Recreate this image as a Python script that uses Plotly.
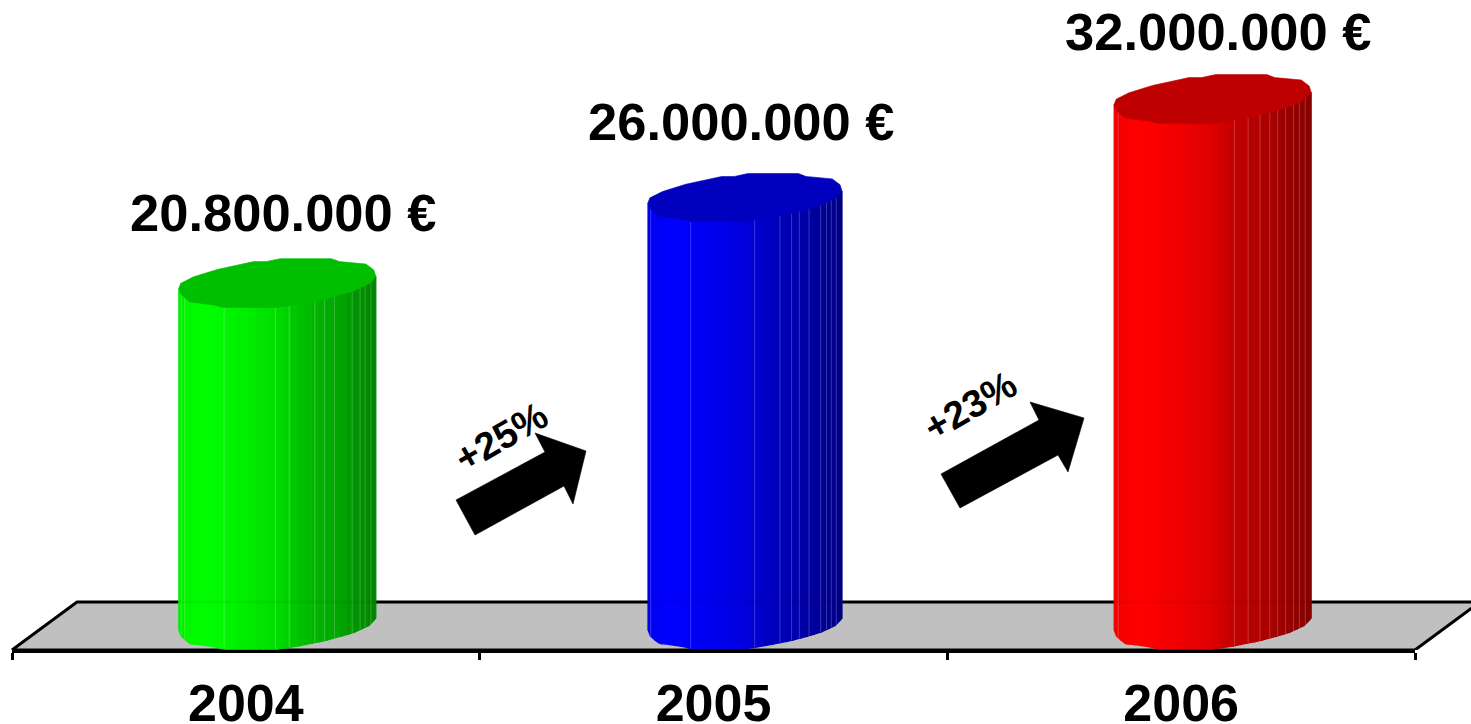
import numpy as np
import plotly.graph_objects as go

# ---- data ----
YEARS = ["2004", "2005", "2006"]
VALUES_MEUR = [20.8, 26.0, 32.0]
VALUE_LABELS = ["20.800.000 €", "26.000.000 €", "32.000.000 €"]
GROWTH_LABELS = ["+25%", "+23%"]
BASE_RGB = [(0, 255, 0), (0, 0, 255), (255, 0, 0)]
CAP_RGB = ["rgb(0,190,0)", "rgb(0,0,190)", "rgb(190,0,0)"]

# ---- page geometry (pixels) ----
W, H = 1471, 724
PLOT_L, PLOT_R, PLOT_B = 12, 1415, 650
PX_X = (PLOT_R - PLOT_L) / 3.0      # px per category
PX_Y = 16.43                        # px per million
DEPTH = (65, -48)                   # depth vector of the 3-D floor
HALF_W = [98.5, 97.0, 98.5]


def X(px):
    return (np.asarray(px, float) - PLOT_L) / PX_X - 0.5


def Y(py):
    return (PLOT_B - np.asarray(py, float)) / PX_Y


# cap outline, as offsets from the cap centre in units of the half width
CAP_UPPER_U = [-1.0, -0.98, -0.85, -0.61, -0.24, -0.11, 0.03, 0.55, 0.63, 0.90, 0.98, 1.0]
CAP_UPPER_V = [0.05, 0.0, -0.065, -0.14, -0.22, -0.22, -0.25, -0.25, -0.22, -0.195, -0.135, -0.07]
CAP_LOWER_U = [-1.0, -0.98, -0.89, -0.79, -0.65, -0.55, 0.0, 0.23, 0.50, 0.77, 0.94, 1.0]
CAP_LOWER_V = [0.05, 0.11, 0.19, 0.20, 0.22, 0.245, 0.245, 0.21, 0.155, 0.08, 0.0, -0.07]

# side shading across the width (0 = left edge, 1 = right edge)
SHADE_U = [0.0, 0.05, 0.13, 0.30, 0.50, 0.62, 0.80, 1.0]
SHADE_K = [0.92, 0.97, 1.0, 0.95, 0.87, 0.76, 0.66, 0.52]
N_STRIPS = 28
SEAMS = [
    [.012, .03, .23, .49, .56, .69, .74, .79, .88, .92, .945, .975],
    [.014, .22, .55, .68, .74, .78, .83, .89, .92, .945, .97],
    [.02, .61, .68, .74, .79, .83, .87, .91, .94, .97],
]

fig = go.Figure()


def poly(xs, ys, fill, line=None, width=0.6):
    fig.add_trace(go.Scatter(
        x=xs, y=ys, mode="lines", fill="toself", fillcolor=fill,
        line=dict(color=line or fill, width=width),
        hoverinfo="skip", showlegend=False,
    ))


def stroke(xs, ys, color, width):
    fig.add_trace(go.Scatter(
        x=xs, y=ys, mode="lines", line=dict(color=color, width=width),
        hoverinfo="skip", showlegend=False,
    ))


# floor
fx = np.array([PLOT_L, PLOT_L + DEPTH[0], PLOT_R + DEPTH[0], PLOT_R, PLOT_L])
fy = np.array([PLOT_B, PLOT_B + DEPTH[1], PLOT_B + DEPTH[1], PLOT_B, PLOT_B])
poly(X(fx), Y(fy), "#c0c0c0", "#000000", 3)

# cylinders
edges = np.linspace(-1, 1, N_STRIPS + 1)
for i, (val, rgb, cap, hw) in enumerate(zip(VALUES_MEUR, BASE_RGB, CAP_RGB, HALF_W)):
    cx_px = PLOT_L + (i + 0.5) * PX_X + DEPTH[0] / 2 - 1
    base_px = PLOT_B + DEPTH[1] / 2 - 1
    top_px = base_px - val * PX_Y
    for j in range(N_STRIPS):
        u0, u1 = edges[j], edges[j + 1]
        us = np.linspace(u0, u1, 4)
        low = np.interp(us, CAP_LOWER_U, CAP_LOWER_V) * hw
        k = np.interp((u0 + u1) / 4 + 0.5, SHADE_U, SHADE_K)
        col = "rgb(%d,%d,%d)" % tuple(int(c * k) for c in rgb)
        xs = np.r_[us, us[::-1], us[0]] * hw + cx_px
        ys = np.r_[low + top_px, (low + base_px)[::-1], low[0] + top_px]
        poly(X(xs), Y(ys), col, width=1.2)
    # light seams between the facets
    for s in SEAMS[i]:
        u = 2 * s - 1
        low = np.interp(u, CAP_LOWER_U, CAP_LOWER_V) * hw
        px = cx_px + u * hw
        stroke(X([px, px]), Y([top_px + low, base_px + low]), "rgba(255,255,255,0.22)", 1)
    # the floor's back edge shows faintly through the cylinder
    back = PLOT_B + DEPTH[1]
    stroke(X([cx_px - hw, cx_px + hw]), Y([back, back]), "rgba(0,0,0,0.05)", 3)
    # top cap
    cu = np.r_[CAP_UPPER_U, CAP_LOWER_U[::-1]]
    cv = np.r_[CAP_UPPER_V, CAP_LOWER_V[::-1]]
    poly(X(cx_px + cu * hw), Y(top_px + cv * hw), cap)

# growth arrows (outlines in px offsets from each arrow's centre)
ARROWS_DX = [[-65, 24, 14, 65, 52, 43, -46], [-72, 26, 17, 71, 55, 45, -53]]
ARROWS_DY = [[16, -32, -51, -33, 20, 2, 51], [19, -35, -53, -37, 17, 0, 53]]
ARROW_CENTRES = [(521, 484), (1013, 455)]
GROWTH_POS = [(501, 436), (970, 405)]
for (ax, ay), dx, dy in zip(ARROW_CENTRES, ARROWS_DX, ARROWS_DY):
    poly(X(ax + np.r_[dx, dx[0]]), Y(ay + np.r_[dy, dy[0]]), "#000000")

# axis with the year labels: its own subplot, spanning only the chart's front edge
fig.add_trace(go.Scatter(x=[0, 1, 2], y=VALUES_MEUR, mode="markers", marker=dict(opacity=0),
                         xaxis="x2", yaxis="y", hoverinfo="skip", showlegend=False))

annotations = []
LABEL_FONT = dict(family="Liberation Sans", size=52.5, color="#000000", weight=700)
LABEL_Y = [212, 121, 31]
LABEL_X = [283.5, 741, 1218]
for t, lx, ly in zip(VALUE_LABELS, LABEL_X, LABEL_Y):
    annotations.append(dict(x=float(X(lx)), y=float(Y(ly)), text=t, showarrow=False,
                            xanchor="center", yanchor="middle", font=LABEL_FONT))
for t, (gx, gy) in zip(GROWTH_LABELS, GROWTH_POS):
    annotations.append(dict(x=float(X(gx)), y=float(Y(gy)), text=t, showarrow=False, textangle=-30,
                            xanchor="center", yanchor="middle",
                            font=dict(family="Liberation Sans", size=38.5, color="#000000", weight=700)))

fig.update_layout(
    width=W, height=H, autosize=False,
    margin=dict(l=0, r=0, t=0, b=H - PLOT_B, pad=0, autoexpand=False),
    paper_bgcolor="white", plot_bgcolor="rgba(0,0,0,0)",
    showlegend=False, annotations=annotations,
    xaxis=dict(range=[float(X(0)), float(X(W))], visible=False, showgrid=False, zeroline=False,
               automargin=False),
    xaxis2=dict(
        domain=[PLOT_L / W, PLOT_R / W], anchor="y", automargin=False,
        range=[-0.5, 2.5], tickmode="array", tickvals=[0, 1, 2], ticktext=YEARS,
        ticks="", showgrid=False, zeroline=False, showline=True,
        linecolor="#000000", linewidth=3, ticklabelstandoff=6,
        tickfont=dict(family="Liberation Sans", size=52, color="#000000", weight=700),
        minor=dict(tickvals=[-0.5, 0.5, 1.5, 2.5], ticks="outside", ticklen=7, tickwidth=2.5,
                   tickcolor="#000000", showgrid=False),
    ),
    yaxis=dict(range=[0, PLOT_B / PX_Y], visible=False, showgrid=False, zeroline=False,
               automargin=False),
)

fig.write_html("out.html", config={"displayModeBar": False},
               post_script="document.body.style.margin='0';")
